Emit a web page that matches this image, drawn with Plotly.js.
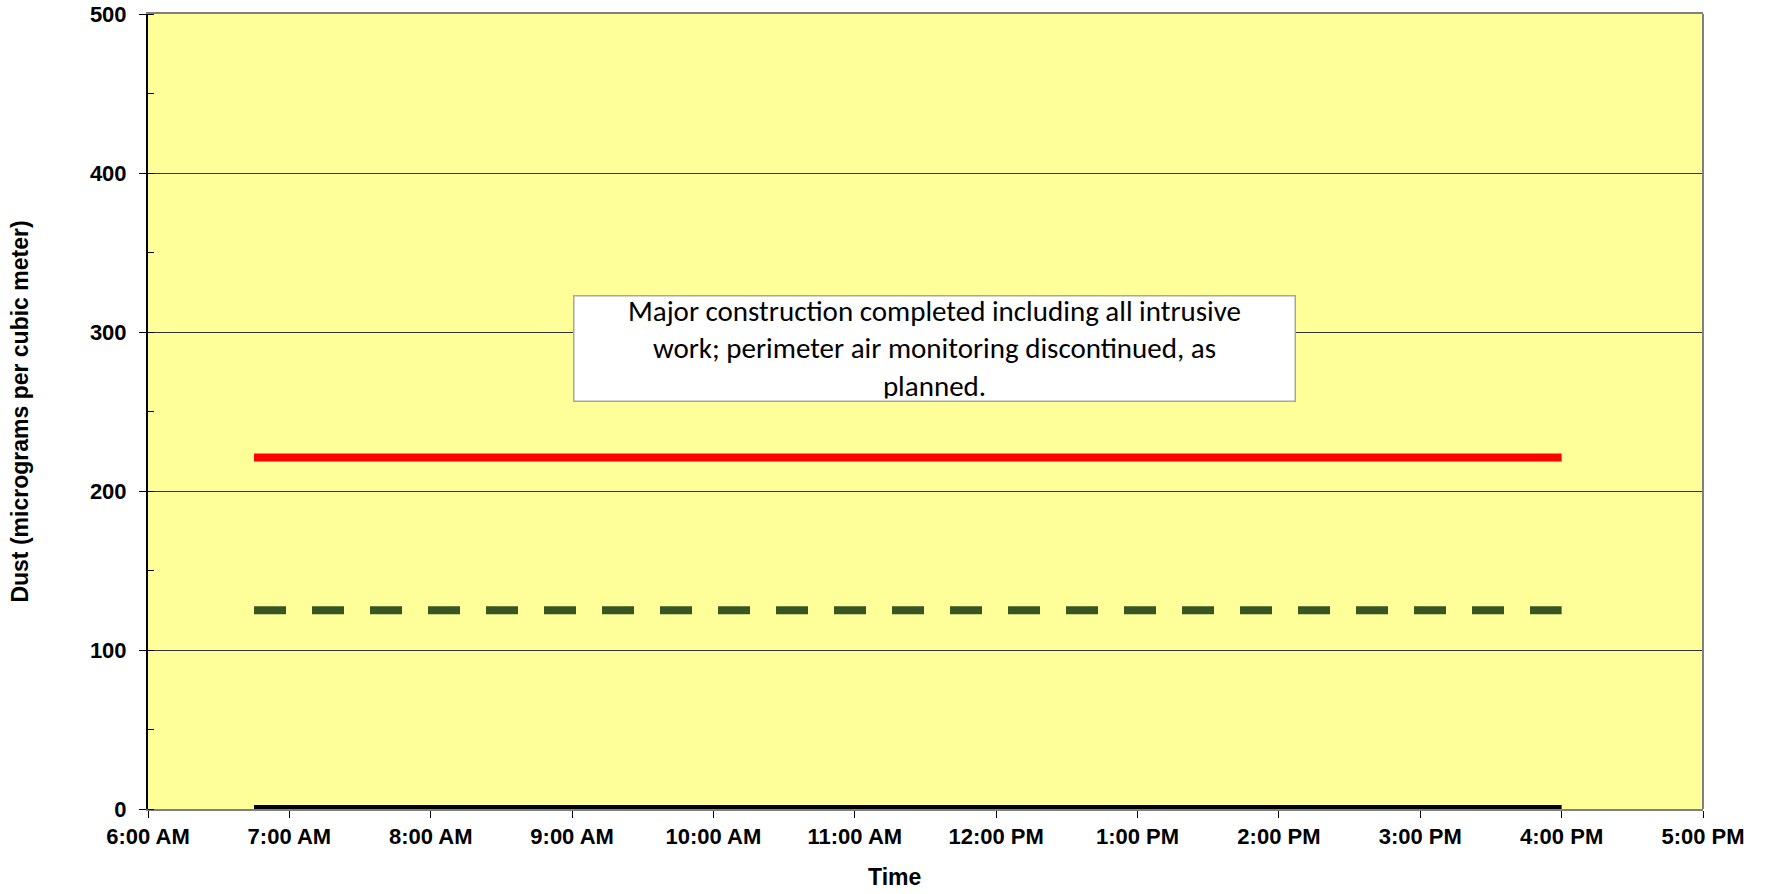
<!DOCTYPE html>
<html>
<head>
<meta charset="utf-8">
<script src="https://cdn.plot.ly/plotly-3.0.1.min.js"></script>
<style>
  html, body { margin: 0; padding: 0; background: #ffffff; }
  #chart { width: 1765px; height: 894px; }
</style>
</head>
<body>
<div id="chart"></div>
<script>
// ---- data ----
const times = ['2000-01-01 06:45:00', '2000-01-01 16:00:00'];
const redLevel = [221, 221];
const greenLevel = [125, 125];
const blackLevel = [0, 0];

const xTickVals = ['2000-01-01 06:00:00', '2000-01-01 07:00:00', '2000-01-01 08:00:00',
  '2000-01-01 09:00:00', '2000-01-01 10:00:00', '2000-01-01 11:00:00', '2000-01-01 12:00:00',
  '2000-01-01 13:00:00', '2000-01-01 14:00:00', '2000-01-01 15:00:00', '2000-01-01 16:00:00',
  '2000-01-01 17:00:00'];
const xTickText = ['6:00 AM', '7:00 AM', '8:00 AM', '9:00 AM', '10:00 AM', '11:00 AM',
  '12:00 PM', '1:00 PM', '2:00 PM', '3:00 PM', '4:00 PM', '5:00 PM'];
const yTickVals = [0, 100, 200, 300, 400, 500];
const yTickText = ['0', '100', '200', '300', '400', '500'];
const noteText = 'Major construction completed including all intrusive<br>work; perimeter air monitoring discontinued, as<br>planned.';

const axisFont = { family: 'Liberation Sans, Arial, sans-serif', size: 22, color: '#000000', weight: 'bold' };
const titleFont = { family: 'Liberation Sans, Arial, sans-serif', size: 23, color: '#000000', weight: 'bold' };

const traces = [
  { x: times, y: redLevel, mode: 'lines', name: 'Red level',
    line: { color: '#FF0000', width: 8 }, hoverinfo: 'skip' },
  { x: times, y: greenLevel, mode: 'lines', name: 'Green level',
    line: { color: '#375623', width: 8, dash: '32px,26px' }, hoverinfo: 'skip' },
  { x: times, y: blackLevel, mode: 'lines', name: 'Black level',
    line: { color: '#000000', width: 8 }, hoverinfo: 'skip' }
];

const layout = {
  width: 1765, height: 894,
  margin: { l: 148, r: 62, t: 14, b: 85 },
  paper_bgcolor: '#ffffff',
  plot_bgcolor: '#FFFF99',
  showlegend: false,
  xaxis: {
    type: 'date',
    range: ['2000-01-01 06:00:00', '2000-01-01 17:00:00'],
    tickmode: 'array', tickvals: xTickVals, ticktext: xTickText,
    ticks: 'outside', ticklen: 7, tickwidth: 1, tickcolor: '#000000',
    showgrid: false, zeroline: false,
    showline: true, linecolor: '#808080', linewidth: 2, mirror: true,
    tickfont: axisFont,
    automargin: false
  },
  yaxis: {
    range: [0, 500],
    tickmode: 'array', tickvals: yTickVals, ticktext: yTickText,
    ticks: 'outside', ticklen: 7, tickwidth: 1, tickcolor: '#000000',
    ticklabelstandoff: 8,
    minor: { dtick: 50, tick0: 0, ticks: 'inside', ticklen: 6, tickwidth: 1, tickcolor: '#000000', showgrid: false },
    showgrid: true, gridcolor: '#333333', gridwidth: 1,
    zeroline: false,
    showline: true, linecolor: '#000000', linewidth: 2,
    tickfont: axisFont,
    title: { text: 'Dust (micrograms per cubic meter)', font: titleFont, standoff: 55 },
    automargin: false
  },
  shapes: [
    { type: 'line', xref: 'x domain', yref: 'y domain', x0: 1, x1: 1, y0: 0, y1: 1,
      line: { color: '#808080', width: 2 } }
  ],
  annotations: [
    { xref: 'paper', yref: 'paper', x: 0.48, y: -0.086,
      xanchor: 'center', yanchor: 'middle',
      text: 'Time', showarrow: false, font: titleFont },
    { xref: 'x', yref: 'y', x: '2000-01-01 11:34:00', y: 289.5,
      xanchor: 'center', yanchor: 'middle',
      text: noteText, showarrow: false,
      font: { family: 'Carlito, Lato, sans-serif', size: 29, color: '#000000' },
      align: 'center', valign: 'middle',
      width: 716, height: 100,
      bgcolor: '#ffffff', bordercolor: '#A6A6A6', borderwidth: 1.5, borderpad: 2 }
  ]
};

Plotly.newPlot('chart', traces, layout, { displayModeBar: false, staticPlot: true });
</script>
</body>
</html>
